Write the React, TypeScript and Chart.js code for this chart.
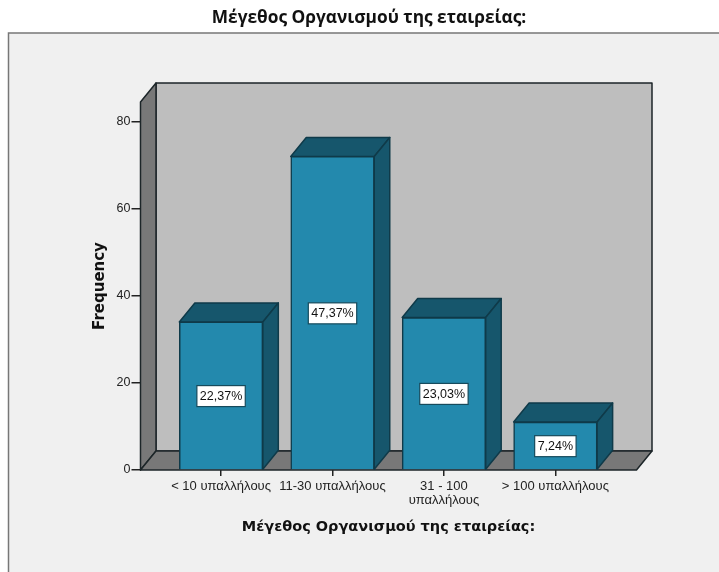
import React, { useEffect, useRef } from "react";
import { Chart, registerables } from "chart.js";

Chart.register(...registerables);

const chartTitle = "Μέγεθος Οργανισμού της εταιρείας:";
const xAxisTitle = "Μέγεθος Οργανισμού της εταιρείας:";
const yAxisTitle = "Frequency";
const categories: (string | string[])[] = [
  "< 10 υπαλλήλους",
  "11-30 υπαλλήλους",
  ["31 - 100", "υπαλλήλους"],
  "> 100 υπαλλήλους",
];
const frequencies = [34, 72, 35, 11];
const percentLabels = ["22,37%", "47,37%", "23,03%", "7,24%"];
const yTicks = [0, 20, 40, 60, 80];
const xPositions = [0, 1, 2, 3];

const DEPTH_X = 15.5;
const DEPTH_Y = 19;
const OUTLINE = "#1c2528";
const BAR_FRONT = "#2389ad";
const BAR_DARK = "#16566c";
const BAR_EDGE = "#0f3a49";
const WALL_BACK = "#bebebe";
const WALL_SIDE = "#787878";
const FRAME_BG = "#f0f0f0";

function poly(ctx: CanvasRenderingContext2D, pts: number[][], fill: string, stroke: string, lw = 1.5) {
  ctx.beginPath();
  pts.forEach((p, i) => (i ? ctx.lineTo(p[0], p[1]) : ctx.moveTo(p[0], p[1])));
  ctx.closePath();
  ctx.fillStyle = fill;
  ctx.fill();
  ctx.strokeStyle = stroke;
  ctx.lineWidth = lw;
  ctx.lineJoin = "round";
  ctx.stroke();
}

const framePlugin = {
  id: "frame",
  beforeDraw(chart: any) {
    const ctx = chart.ctx;
    ctx.save();
    ctx.fillStyle = "#ffffff";
    ctx.fillRect(0, 0, chart.width, chart.height);
    ctx.fillStyle = FRAME_BG;
    ctx.fillRect(8, 33, chart.width - 8, chart.height - 33);
    ctx.strokeStyle = "#777777";
    ctx.lineWidth = 1.5;
    ctx.beginPath();
    ctx.moveTo(8.5, chart.height);
    ctx.lineTo(8.5, 33);
    ctx.lineTo(chart.width, 33);
    ctx.stroke();
    ctx.restore();
  },
};

const wallsPlugin = {
  id: "walls",
  beforeDatasetsDraw(chart: any) {
    const { ctx, chartArea: a } = chart;
    const { left: l, right: r, top: t, bottom: b } = a;
    ctx.save();
    poly(ctx, [[l + DEPTH_X, t - DEPTH_Y], [r + DEPTH_X, t - DEPTH_Y], [r + DEPTH_X, b - DEPTH_Y], [l + DEPTH_X, b - DEPTH_Y]], WALL_BACK, OUTLINE);
    poly(ctx, [[l, t], [l + DEPTH_X, t - DEPTH_Y], [l + DEPTH_X, b - DEPTH_Y], [l, b]], WALL_SIDE, OUTLINE);
    poly(ctx, [[l, b], [l + DEPTH_X, b - DEPTH_Y], [r + DEPTH_X, b - DEPTH_Y], [r, b]], WALL_SIDE, OUTLINE);
    ctx.restore();
  },
};

const barsPlugin = {
  id: "bars3d",
  beforeDatasetsDraw(chart: any) {
    const { ctx } = chart;
    ctx.save();
    chart.getDatasetMeta(0).data.forEach((el: any) => {
      const x0 = el.x - el.width / 2;
      const x1 = el.x + el.width / 2;
      poly(ctx, [[x0, el.y], [x0 + DEPTH_X, el.y - DEPTH_Y], [x1 + DEPTH_X, el.y - DEPTH_Y], [x1, el.y]], BAR_DARK, BAR_EDGE);
      poly(ctx, [[x1, el.y], [x1 + DEPTH_X, el.y - DEPTH_Y], [x1 + DEPTH_X, el.base - DEPTH_Y], [x1, el.base]], BAR_DARK, BAR_EDGE);
    });
    ctx.restore();
  },
  afterDatasetsDraw(chart: any) {
    const { ctx } = chart;
    ctx.save();
    ctx.font = "12.5px 'Liberation Sans'";
    ctx.textAlign = "center";
    ctx.textBaseline = "middle";
    chart.getDatasetMeta(0).data.forEach((el: any, i: number) => {
      const text = percentLabels[i];
      const w = ctx.measureText(text).width + 6;
      const h = 21;
      const cy = (el.y + el.base) / 2 + 0.5;
      ctx.fillStyle = "#ffffff";
      ctx.strokeStyle = "#164a5c";
      ctx.lineWidth = 1.2;
      ctx.fillRect(el.x - w / 2, cy - h / 2, w, h);
      ctx.strokeRect(el.x - w / 2, cy - h / 2, w, h);
      ctx.fillStyle = "#111111";
      ctx.fillText(text, el.x, cy + 0.5);
    });
    ctx.restore();
  },
};

export default function App() {
  const ref = useRef<HTMLCanvasElement>(null);
  useEffect(() => {
    const chart = new Chart(ref.current as HTMLCanvasElement, {
      type: "bar",
      data: {
        datasets: [
          {
            data: xPositions.map((x, i) => ({ x, y: frequencies[i] })),
            backgroundColor: BAR_FRONT,
            borderColor: BAR_EDGE,
            borderWidth: 1.5,
            barThickness: 83.5,
          },
        ],
      },
      plugins: [framePlugin, wallsPlugin, barsPlugin],
      options: {
        responsive: false,
        animation: false,
        events: [],
        layout: { padding: { left: 19, right: 0, top: 0, bottom: 0 } },
        plugins: {
          legend: { display: false },
          tooltip: { enabled: false },
          title: {
            display: true,
            text: chartTitle,
            color: "#111111",
            font: { family: "'Open Sans'", size: 17.3, weight: "bold", lineHeight: 1.2 },
            padding: { top: 8, bottom: 73.24 },
          },
        },
        scales: {
          x: {
            type: "linear",
            offset: false,
            min: -0.723,
            max: 3.728,
            afterBuildTicks: (s: any) => {
              s.ticks = xPositions.map((value) => ({ value }));
            },
            afterFit: (s: any) => {
              s.height = 102;
            },
            grid: { offset: false, drawOnChartArea: false, tickLength: 6, color: "#222222", lineWidth: 1.5 },
            border: { display: false },
            ticks: {
              callback: (v: any) => categories[v as number] as any,
              autoSkip: false,
              maxRotation: 0,
              minRotation: 0,
              padding: 4,
              color: "#222222",
              font: { family: "'Liberation Sans'", size: 13, lineHeight: 1.05 },
            },
            title: {
              display: true,
              text: xAxisTitle,
              color: "#111111",
              font: { family: "'DejaVu Sans'", size: 14.5, weight: "bold", lineHeight: 1.2 },
              padding: { top: 0, bottom: 36 },
            },
          },
          y: {
            min: 0,
            max: 84.5,
            afterBuildTicks: (s: any) => {
              s.ticks = yTicks.map((value) => ({ value }));
            },
            afterFit: (s: any) => {
              s.width = 121.5;
            },
            grid: { drawOnChartArea: false, tickLength: 9, color: "#222222", lineWidth: 1.5 },
            border: { display: false },
            ticks: {
              padding: 1,
              color: "#222222",
              font: { family: "'Liberation Sans'", size: 12.5 },
            },
            title: {
              display: true,
              text: yAxisTitle,
              color: "#111111",
              font: { family: "'DejaVu Sans'", size: 15, weight: "bold", lineHeight: 1.2 },
              padding: { top: 72, bottom: 0 },
            },
          },
          rightGutter: {
            type: "linear",
            position: "right",
            afterFit: (s: any) => {
              s.width = 82.5;
            },
            grid: { display: false },
            border: { display: false },
            ticks: { display: false },
          },
        },
      } as any,
    });
    return () => chart.destroy();
  }, []);
  return (
    <canvas
      ref={ref}
      width={719}
      height={572}
      style={{ position: "absolute", left: 0, top: 0, display: "block" }}
    />
  );
}
